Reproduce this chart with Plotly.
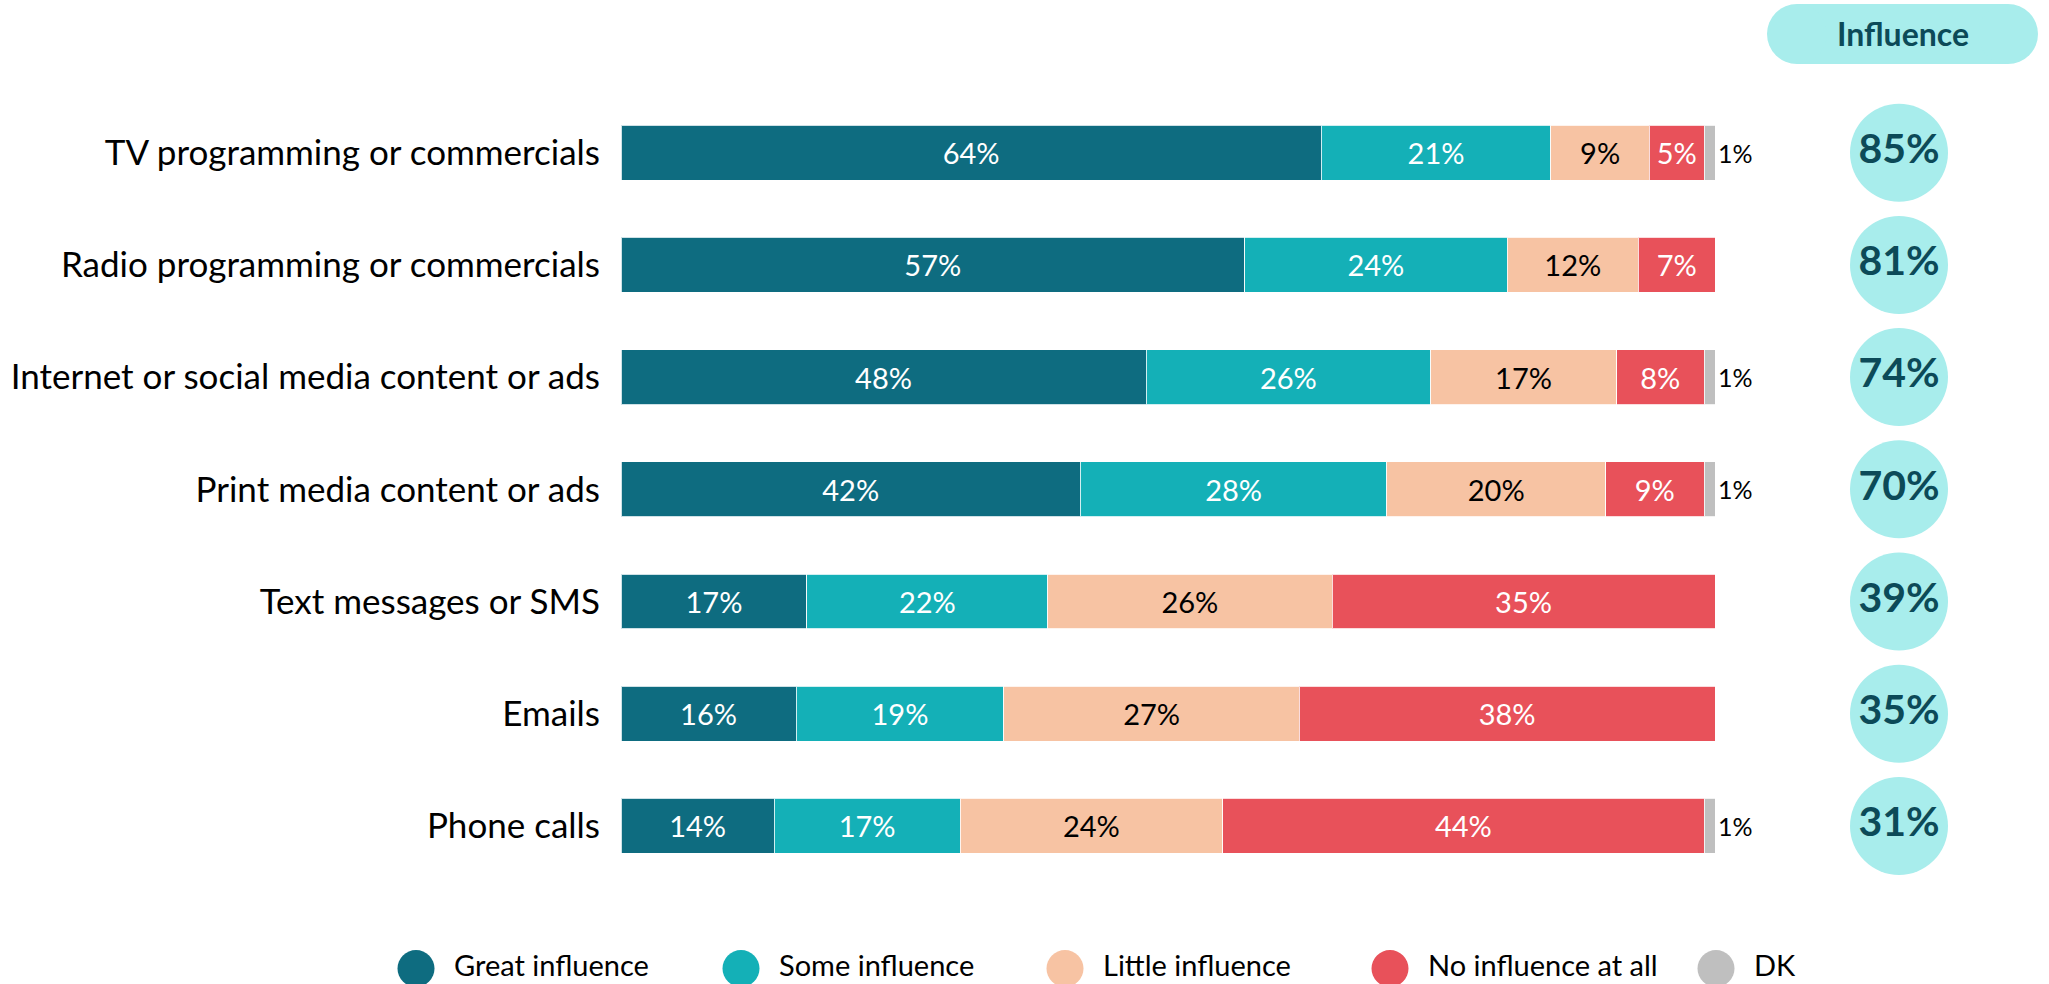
import plotly.graph_objects as go

# Survey: how much influence each media channel has
categories = [
    "TV programming or commercials",
    "Radio programming or commercials",
    "Internet or social media content or ads",
    "Print media content or ads",
    "Text messages or SMS",
    "Emails",
    "Phone calls",
]
great = [64, 57, 48, 42, 17, 16, 14]
some = [21, 24, 26, 28, 22, 19, 17]
little = [9, 12, 17, 20, 26, 27, 24]
none_at_all = [5, 7, 8, 9, 35, 38, 44]
dk = [1, 0, 1, 1, 0, 0, 1]
influence = [85, 81, 74, 70, 39, 35, 31]

series_names = ["Great influence", "Some influence", "Little influence", "No influence at all", "DK"]
series_values = [great, some, little, none_at_all, dk]
series_colors = ["#0E6C80", "#14B0B7", "#F7C3A3", "#E8515A", "#BFBFBF"]
label_colors = ["white", "white", "black", "white", "black"]

FONT = "Lato"
W, H = 2049, 984

fig = go.Figure()

for name, vals, color, lc in zip(series_names, series_values, series_colors, label_colors):
    is_dk = name == "DK"
    fig.add_trace(go.Bar(
        y=categories,
        x=vals,
        name=name,
        orientation="h",
        marker=dict(color=color, line=dict(color="rgba(255,255,255,0.8)", width=1)),
        text=[(f"{v}%" if v else "") for v in vals],
        textposition="outside" if is_dk else "inside",
        insidetextanchor="middle",
        textfont=dict(family=FONT, size=25 if is_dk else 29, color=lc),
        constraintext="none",
        cliponaxis=False,
        showlegend=False,
        hoverinfo="skip",
    ))

# Influence totals shown in circles on the right
fig.add_trace(go.Scatter(
    x=[0.5] * len(categories),
    y=categories,
    xaxis="x2",
    mode="markers+text",
    marker=dict(size=98, color="#A8EDEC", line=dict(width=0)),
    text=[f"{v}%" for v in influence],
    textposition="middle center",
    textfont=dict(family=FONT, size=41, color="#0C4A58", weight="bold"),
    showlegend=False,
    hoverinfo="skip",
    cliponaxis=False,
))

shapes = []
annotations = []

def xp(v):
    return v / W

def yp(v):
    return 1 - v / H

# "Influence" header pill
pill_color = "#A8EDEC"
px0, px1, py0, py1 = 1767, 2038, 4, 64
r = (py1 - py0) / 2
shapes.append(dict(type="rect", xref="paper", yref="paper",
                   x0=xp(px0 + r), x1=xp(px1 - r), y0=yp(py1), y1=yp(py0),
                   fillcolor=pill_color, line=dict(width=0), layer="below"))
for cx in (px0 + r, px1 - r):
    shapes.append(dict(type="circle", xref="paper", yref="paper",
                       x0=xp(cx - r), x1=xp(cx + r), y0=yp(py1), y1=yp(py0),
                       fillcolor=pill_color, line=dict(width=0), layer="below"))
annotations.append(dict(text="<b>Influence</b>", xref="paper", yref="paper",
                        x=xp((px0 + px1) / 2), y=yp((py0 + py1) / 2),
                        showarrow=False, xanchor="center", yanchor="middle",
                        font=dict(family=FONT, size=32, color="#0C4A58")))

# Legend with round markers along the bottom
leg_cx = [416, 741, 1065, 1390, 1716]
leg_cy = 968.5
leg_r = 18.5
for name, color, cx in zip(series_names, series_colors, leg_cx):
    shapes.append(dict(type="circle", xref="paper", yref="paper",
                       x0=xp(cx - leg_r), x1=xp(cx + leg_r),
                       y0=yp(leg_cy + leg_r), y1=yp(leg_cy - leg_r),
                       fillcolor=color, line=dict(width=0)))
    annotations.append(dict(text=name, xref="paper", yref="paper",
                            x=xp(cx + leg_r + 17), y=yp(964),
                            showarrow=False, xanchor="left", yanchor="middle",
                            font=dict(family=FONT, size=29, color="black")))

bar_left, bar_right = 621, 1715
row_top, row_bottom = 96.6, 882.0
n = len(categories)

fig.update_layout(
    width=W, height=H,
    margin=dict(l=0, r=0, t=0, b=0),
    paper_bgcolor="white",
    plot_bgcolor="white",
    barmode="stack",
    bargap=0.51,
    font=dict(family=FONT, color="black"),
    xaxis=dict(domain=[bar_left / W, bar_right / W], range=[0, 100],
               visible=False, fixedrange=True),
    xaxis2=dict(domain=[1874 / W, 1924 / W], range=[0, 1], visible=False,
                anchor="y"),
    yaxis=dict(domain=[1 - row_bottom / H, 1 - row_top / H],
               categoryorder="array", categoryarray=categories,
               range=[n - 0.5, -0.5], autorange=False,
               showgrid=False, zeroline=False, showline=False, ticks="",
               ticklabelstandoff=20,
               tickfont=dict(family=FONT, size=35, color="black")),
    shapes=shapes,
    annotations=annotations,
)

fig.write_html("out.html")
